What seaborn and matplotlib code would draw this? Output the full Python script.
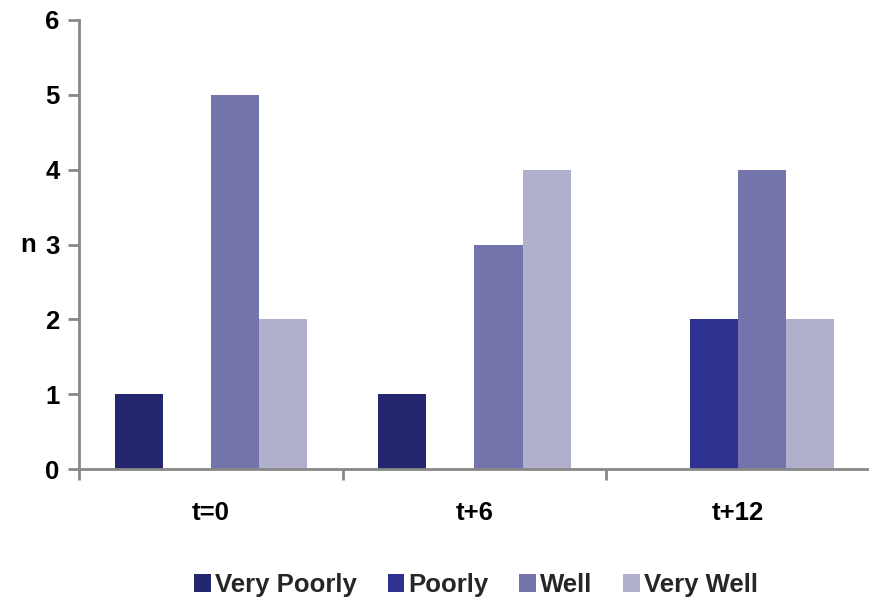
import matplotlib
matplotlib.use("Agg")
import matplotlib.pyplot as plt
import seaborn as sns
import pandas as pd
from matplotlib.ticker import FixedLocator
from matplotlib.patches import Patch

categories = ["t=0", "t+6", "t+12"]
series = ["Very Poorly", "Poorly", "Well", "Very Well"]
very_poorly = [1, 1, 0]
poorly = [0, 0, 2]
well = [5, 3, 4]
very_well = [2, 4, 2]
colors = ["#24266F", "#2E3190", "#7374AB", "#B0B0CC"]

rows = []
for s, vals in zip(series, [very_poorly, poorly, well, very_well]):
    for c, v in zip(categories, vals):
        rows.append({"time": c, "response": s, "n": v})
df = pd.DataFrame(rows)

sns.set_theme(style="white")
plt.rcParams['font.family'] = ['Liberation Sans', 'DejaVu Sans']

FS = 18.5
fig = plt.figure(figsize=(8.7, 6), dpi=100)
ax = fig.add_axes([0.0908, 0.218, 0.9092, 0.749])
sns.barplot(data=df, x="time", y="n", hue="response", order=categories,
            hue_order=series, palette=colors, width=0.73, saturation=1,
            ax=ax, legend=False, linewidth=0)

ax.set_xlim(-0.5, 2.5)
ax.set_ylim(0, 6)
ax.set_yticks(range(0, 7))
ax.set_yticklabels([str(i) for i in range(7)], fontsize=FS, fontweight="bold", color="black")
ax.set_xticks(range(3))
ax.set_xticklabels(categories, fontsize=FS, fontweight="bold", color="black")
ax.xaxis.set_minor_locator(FixedLocator([-0.5, 0.5, 1.5, 2.5]))
ax.tick_params(axis="x", which="major", length=0, pad=23)
ax.tick_params(axis="x", which="minor", length=8, width=2, color="#888888", direction="out", bottom=True)
ax.tick_params(axis="y", length=8, width=2, color="#888888", direction="out", left=True, pad=6)
ax.set_xlabel("")
ax.set_ylabel("n", rotation=0, fontsize=FS, fontweight="bold", color="black",
              ha="right", va="center")
ax.yaxis.set_label_coords(-0.054, 0.5)
for side in ["top", "right"]:
    ax.spines[side].set_visible(False)
for side in ["left", "bottom"]:
    ax.spines[side].set_color("#888888")
    ax.spines[side].set_linewidth(2)
ax.grid(False)

handles = [Patch(facecolor=c, edgecolor="none", label=s) for s, c in zip(series, colors)]
fig.legend(handles=handles, loc="center", bbox_to_anchor=(0.547, 0.025), ncol=4,
           frameon=False, prop={"size": FS, "weight": "bold"},
           handlelength=0.65, handleheight=0.65, handletextpad=0.15, columnspacing=1.2)

fig.savefig("out.png", dpi=100, facecolor="white")
